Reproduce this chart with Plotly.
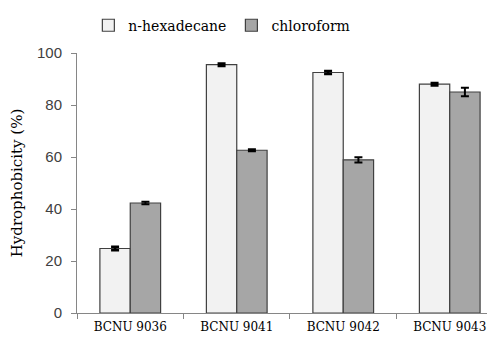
import plotly.graph_objects as go

categories = ["BCNU 9036", "BCNU 9041", "BCNU 9042", "BCNU 9043"]
hexadecane = [24.8, 95.5, 92.5, 88.0]
hexadecane_err = [0.7, 0.5, 0.6, 0.5]
chloroform = [42.3, 62.6, 58.9, 85.0]
chloroform_err = [0.5, 0.4, 1.0, 1.6]
y_ticks = [0, 20, 40, 60, 80, 100]

SERIF = "DejaVu Serif"
SANS = "Liberation Sans, Arial, DejaVu Sans, sans-serif"

fig = go.Figure()
fig.add_trace(go.Bar(
    name="n-hexadecane", x=categories, y=hexadecane,
    marker=dict(color="#f2f2f2", line=dict(color="#404040", width=1.2)),
    error_y=dict(type="data", array=hexadecane_err, color="black", thickness=2.5, width=4),
))
fig.add_trace(go.Bar(
    name="chloroform", x=categories, y=chloroform,
    marker=dict(color="#a6a6a6", line=dict(color="#404040", width=1.2)),
    error_y=dict(type="data", array=chloroform_err, color="black", thickness=2, width=4),
))

fig.update_layout(
    width=487, height=327,
    margin=dict(l=69, r=0, t=45, b=22, autoexpand=False),
    paper_bgcolor="white", plot_bgcolor="white",
    barmode="group", bargap=0.43, bargroupgap=0,
    showlegend=True,
    legend=dict(orientation="h", xref="container", yref="container",
                x=0.165, y=0.995, xanchor="left", yanchor="top",
                font=dict(family=SERIF, size=14, color="black"),
                itemwidth=30, tracegroupgap=0, bgcolor="rgba(0,0,0,0)"),
    xaxis=dict(range=[-0.5, 3.425], showline=True, linecolor="#868686", linewidth=1,
               ticks="outside", tickson="boundaries", ticklen=5, tickcolor="#868686",
               tickfont=dict(family=SERIF, size=12, color="black"),
               ticklabelstandoff=3, ticklabeloverflow="allow",
               showgrid=False, zeroline=False, automargin=False),
    yaxis=dict(range=[0, 100], tickvals=y_ticks, showline=True, linecolor="#868686",
               linewidth=1, ticks="outside", ticklen=5, tickcolor="#868686",
               tickfont=dict(family=SANS, size=15, color="#404040"),
               ticklabelstandoff=6,
               showgrid=False, zeroline=False, automargin=False,
               title=dict(text="Hydrophobicity (%)", standoff=12,
                          font=dict(family=SERIF, size=15, color="black"))),
)

fig.write_html("out.html")
